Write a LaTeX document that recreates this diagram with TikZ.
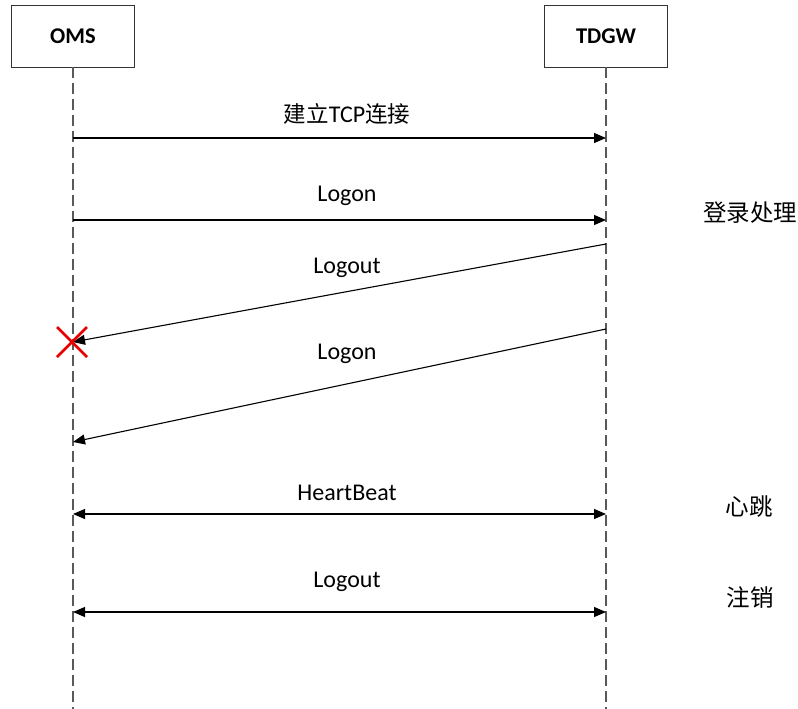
\documentclass[tikz,border=0pt]{standalone}
\usepackage{fontspec}
\setmainfont{Carlito}
\newfontfamily\cjk{Noto Sans CJK SC}
\usetikzlibrary{arrows.meta}
\begin{document}
\begin{tikzpicture}[x=1pt,y=-1pt,
  actor/.style={draw=black!80,line width=0.8pt,minimum width=123pt,minimum height=62pt,inner sep=0pt,font=\fontsize{22.5}{26}\selectfont\bfseries},
  lifeline/.style={draw=black!65,line width=1.5pt,dash pattern=on 11pt off 5pt},
  msg/.style={draw=black,line width=1.1pt,-{Triangle[length=12pt,width=10pt]}},
  dmsg/.style={draw=black,line width=1.1pt,{Triangle[length=12pt,width=10pt]}-{Triangle[length=12pt,width=10pt]}},
  lbl/.style={font=\fontsize{24}{28}\selectfont,inner sep=0pt},
  side/.style={font=\fontsize{23.5}{28}\selectfont\cjk,inner sep=0pt}]
\useasboundingbox (0,0) rectangle (798,709);
\node[actor] (oms) at (73,36) {OMS};
\node[actor] (tdgw) at (606,36) {TDGW};
\coordinate (omsend) at (73,709);
\coordinate (tdgwend) at (606,709);
\draw[lifeline] (oms.south) -- (omsend);
\draw[lifeline] (tdgw.south) -- (tdgwend);
% message points
\coordinate (a1) at (73,138); \coordinate (b1) at (606,138);
\coordinate (a2) at (73,220); \coordinate (b2) at (606,220);
\coordinate (a3) at (73,342); \coordinate (b3) at (606,244);
\coordinate (a4) at (73,442); \coordinate (b4) at (606,329);
\coordinate (a5) at (73,514); \coordinate (b5) at (606,514);
\coordinate (a6) at (73,612); \coordinate (b6) at (606,612);
\draw[msg] (a1) -- (b1);
\draw[msg] (a2) -- (b2);
\draw[msg] (b3) -- (a3);
\draw[msg] (b4) -- (a4);
\draw[dmsg] (a5) -- (b5);
\draw[dmsg] (a6) -- (b6);
\node[lbl] (l1) at (347,114) {{\cjk\fontsize{22.5}{28}\selectfont 建立}TCP{\cjk\fontsize{22.5}{28}\selectfont 连接}};
\node[lbl] (l2) at (347,196) {Logon};
\node[lbl] (l3) at (347,268) {Logout};
\node[lbl] (l4) at (347,354) {Logon};
\node[lbl] (l5) at (347,493) {HeartBeat};
\node[lbl] (l6) at (347,582) {Logout};
% red cross
\coordinate (x1) at (57,327); \coordinate (x2) at (87,357);
\coordinate (x3) at (57,357); \coordinate (x4) at (87,327);
\draw[red!90!black,line width=2.6pt] (x1) -- (x2) (x3) -- (x4);
\node[side] (s1) at (750,213) {登录处理};
\node[side] (s2) at (749,507) {心跳};
\node[side] (s3) at (750,598) {注销};
\end{tikzpicture}
\end{document}
